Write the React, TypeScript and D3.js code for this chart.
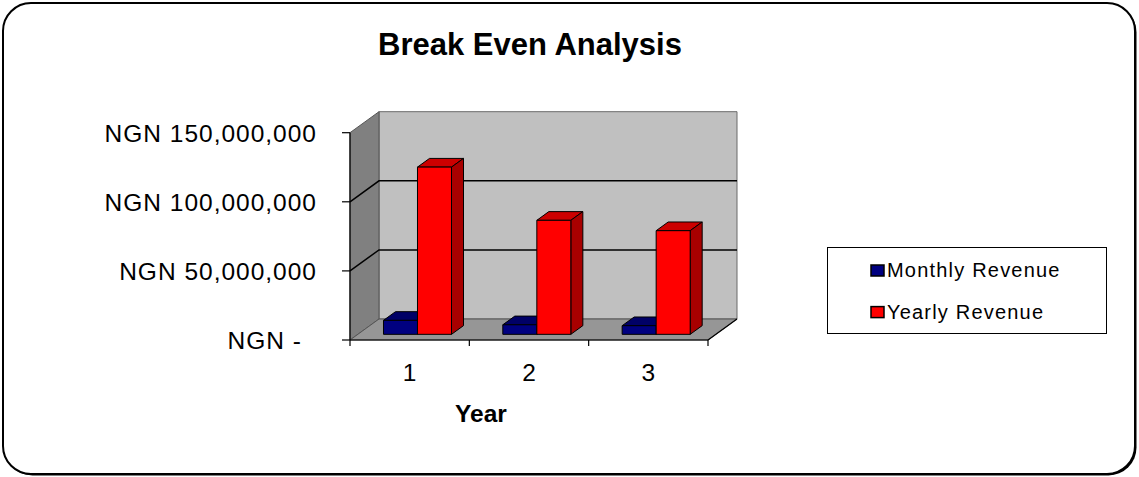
import React from 'react';
import * as d3 from 'd3';

const years = ['1', '2', '3'];
const seriesNames = ['Monthly Revenue', 'Yearly Revenue'];
const monthlyRevenue = [10100000, 6900000, 6250000];
const yearlyRevenue = [121000000, 82500000, 75000000];
const yTicks = [0, 50000000, 100000000, 150000000];

const W = 1139, H = 477;
const left = 350, right = 708, bottom = 340, top = 132.7;
const depthX = 29, depthY = -21;
const barFront = 0.27, barBack = 0.684;

const seriesColors = [
  { front: '#000080', top: '#000066', side: '#00004d' },
  { front: '#ff0000', top: '#cc0000', side: '#a80000' },
];

const fmt = d3.format(',');
const tickLabel = (v: number) => (v === 0 ? 'NGN -' : 'NGN ' + fmt(v));

export default function App() {
  const y = d3.scaleLinear().domain([0, 150000000]).range([bottom, top]);
  const x = d3.scaleBand().domain(years).range([left, right]).paddingInner(0.43).paddingOuter(0.215);
  const xs = d3.scaleBand().domain(seriesNames).range([0, x.bandwidth()]);
  const step = (right - left) / years.length;

  // oblique projection: front x, value, depth fraction
  const P = (px: number, v: number, f: number): [number, number] => [px + f * depthX, y(v) + f * depthY];
  const poly = (pts: [number, number][]) => pts.map(p => p.join(',')).join(' ');

  const data = [monthlyRevenue, yearlyRevenue];

  return (
    <svg width={W} height={H} style={{ position: 'absolute', left: 0, top: 0 }} fontFamily="Arial, 'Liberation Sans', sans-serif">
      <rect x={4.5} y={4.5} width={1132} height={471} rx={28} fill="#000" />
      <rect x={3} y={3} width={1132} height={471} rx={28} fill="#fff" stroke="#000" strokeWidth={2} />

      <text x={530} y={55} textAnchor="middle" fontSize={31} fontWeight="bold">Break Even Analysis</text>

      {/* walls */}
      <polygon points={poly([P(left, 0, 1), P(right, 0, 1), P(right, 150000000, 1), P(left, 150000000, 1)])} fill="#c0c0c0" stroke="#6a6a6a" strokeWidth={1} />
      <polygon points={poly([P(left, 0, 0), P(left, 0, 1), P(left, 150000000, 1), P(left, 150000000, 0)])} fill="#808080" stroke="#555" strokeWidth={1} />
      <polygon points={poly([P(left, 0, 0), P(right, 0, 0), P(right, 0, 1), P(left, 0, 1)])} fill="#969696" stroke="#555" strokeWidth={1} />
      <line x1={right} y1={bottom} x2={P(right, 0, 1)[0]} y2={P(right, 0, 1)[1]} stroke="#000" strokeWidth={1.2} />

      {yTicks.filter(t => t > 0 && t < 150000000).map(t => (
        <polyline key={t} points={poly([P(left, t, 0), P(left, t, 1), P(right, t, 1)])} fill="none" stroke="#000" strokeWidth={1.5} />
      ))}

      {/* bars */}
      {years.map((yr, i) => (
        <g key={yr}>
          {data.map((vals, s) => {
            const x0 = (x(yr) as number) + (xs(seriesNames[s]) as number);
            const x1 = x0 + xs.bandwidth();
            const v = vals[i];
            const c = seriesColors[s];
            return (
              <g key={s} stroke="#000" strokeWidth={1} strokeLinejoin="round">
                <polygon points={poly([P(x0, v, barFront), P(x1, v, barFront), P(x1, v, barBack), P(x0, v, barBack)])} fill={c.top} />
                <polygon points={poly([P(x1, 0, barFront), P(x1, v, barFront), P(x1, v, barBack), P(x1, 0, barBack)])} fill={c.side} />
                <polygon points={poly([P(x0, 0, barFront), P(x1, 0, barFront), P(x1, v, barFront), P(x0, v, barFront)])} fill={c.front} />
              </g>
            );
          })}
        </g>
      ))}

      {/* axes */}
      <line x1={left} y1={top} x2={left} y2={bottom} stroke="#000" strokeWidth={1.2} />
      <line x1={left} y1={bottom} x2={right} y2={bottom} stroke="#000" strokeWidth={1.2} />
      {yTicks.map(t => (
        <g key={t}>
          <line x1={left - 8} x2={left} y1={y(t)} y2={y(t)} stroke="#000" strokeWidth={1.2} />
          <text x={t === 0 ? 302 : 317} y={y(t) + 9} textAnchor="end" fontSize={24.5} letterSpacing={1}>{tickLabel(t)}</text>
        </g>
      ))}
      {d3.range(years.length + 1).map(k => (
        <line key={k} x1={left + k * step} x2={left + k * step} y1={bottom} y2={bottom + 6} stroke="#000" strokeWidth={1.2} />
      ))}
      {years.map(yr => (
        <text key={yr} x={(x(yr) as number) + x.bandwidth() / 2} y={381} textAnchor="middle" fontSize={24.5}>{yr}</text>
      ))}
      <text x={481} y={422} textAnchor="middle" fontSize={24.5} fontWeight="bold">Year</text>

      {/* legend */}
      <rect x={827.5} y={247.5} width={279} height={86} fill="#fff" stroke="#000" strokeWidth={1} />
      {seriesNames.map((n, s) => (
        <g key={n} transform={`translate(0, ${s * 41.6})`}>
          <rect x={871} y={265} width={13} height={11} fill={seriesColors[s].front} stroke="#000" strokeWidth={1.5} />
          <text x={887} y={277} fontSize={20} letterSpacing={1.2}>{n}</text>
        </g>
      ))}
    </svg>
  );
}
